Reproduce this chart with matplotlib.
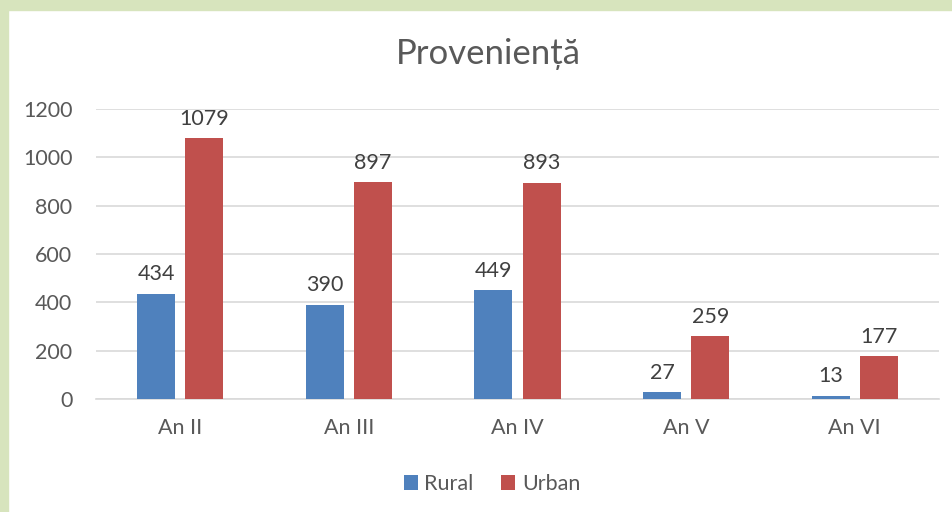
import numpy as np
import matplotlib.pyplot as plt
from matplotlib.patches import Rectangle

plt.rcParams['font.family'] = ['Lato', 'DejaVu Sans']

# data
categories = ['An II', 'An III', 'An IV', 'An V', 'An VI']
rural = [434, 390, 449, 27, 13]
urban = [1079, 897, 893, 259, 177]

txt = '#595959'
grid = '#d9d9d9'

fig = plt.figure(figsize=(9.53, 5.12), dpi=100)
fig.patch.set_facecolor('white')
# green frame on the top and left edges
fig.patches.append(Rectangle((0, 1 - 10 / 512), 1, 10 / 512, transform=fig.transFigure,
                             color='#d7e4bd', zorder=-1))
fig.patches.append(Rectangle((0, 0), 8 / 953, 1, transform=fig.transFigure,
                             color='#d7e4bd', zorder=-1))

ax = fig.add_axes([96 / 953, 1 - 399 / 512, (939 - 96) / 953, (399 - 109) / 512])

x = np.arange(len(categories))
w = 0.225
off = 0.143
b1 = ax.bar(x - off, rural, w, color='#4f81bd', label='Rural', zorder=3)
b2 = ax.bar(x + off, urban, w, color='#c0504d', label='Urban', zorder=3)

for bars, vals in ((b1, rural), (b2, urban)):
    for rect, v in zip(bars, vals):
        ax.annotate(str(v), (rect.get_x() + rect.get_width() / 2, v),
                    xytext=(0, 7), textcoords='offset points',
                    ha='center', va='bottom', fontsize=15.5, color='#404040')

ax.set_xlim(-0.5, len(categories) - 0.5)
ax.set_ylim(0, 1200)
ax.set_yticks(range(0, 1201, 200))
ax.yaxis.grid(True, color=grid, linewidth=1.2)
ax.set_axisbelow(True)
for s in ['top', 'right', 'left']:
    ax.spines[s].set_visible(False)
ax.spines['bottom'].set_color(grid)
ax.spines['bottom'].set_linewidth(1.2)
ax.tick_params(axis='both', length=0, labelsize=15.5, colors=txt)
ax.tick_params(axis='y', pad=17)
ax.tick_params(axis='x', pad=14)
ax.set_xticks(x)
ax.set_xticklabels(categories)

fig.text(488 / 953, 1 - 54 / 512, 'Proveniență', ha='center', va='center',
         fontsize=25, color=txt)

fig.legend(handles=[b1, b2], loc='center', bbox_to_anchor=(492 / 953, 1 - 484 / 512),
           ncol=2, frameon=False, fontsize=15.5, labelcolor=txt,
           handlelength=0.65, handleheight=0.65, handletextpad=0.3, columnspacing=1.3)

fig.savefig('out.png', dpi=100)
